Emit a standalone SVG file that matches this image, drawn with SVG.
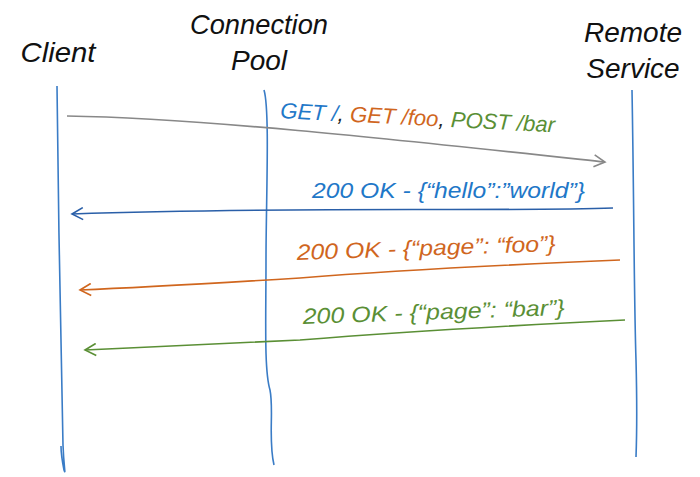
<svg xmlns="http://www.w3.org/2000/svg" width="700" height="477" viewBox="0 0 700 477">
<style>
.h{font-family:"Liberation Sans",sans-serif;font-style:italic;font-size:28px;fill:#111;text-anchor:middle}
.l{font-family:"Liberation Sans",sans-serif;font-style:italic;font-size:22px}
.life{fill:none;stroke:#3a7cc6;stroke-width:1.6}
.blue{fill:#1f78c8}.orange{fill:#d0661e}.green{fill:#5a8f35}.dark{fill:#222}
</style>
<defs>
<marker id="ag" markerWidth="14" markerHeight="14" refX="12" refY="7" orient="auto" markerUnits="userSpaceOnUse"><path d="M1,1 L12,7 L1,13" fill="none" stroke="#888" stroke-width="1.6"/></marker>
<marker id="ab" markerWidth="14" markerHeight="14" refX="12" refY="7" orient="auto" markerUnits="userSpaceOnUse"><path d="M1,1 L12,7 L1,13" fill="none" stroke="#2a5fa8" stroke-width="1.6"/></marker>
<marker id="ao" markerWidth="14" markerHeight="14" refX="12" refY="7" orient="auto" markerUnits="userSpaceOnUse"><path d="M1,1 L12,7 L1,13" fill="none" stroke="#d0661e" stroke-width="1.6"/></marker>
<marker id="agr" markerWidth="14" markerHeight="14" refX="12" refY="7" orient="auto" markerUnits="userSpaceOnUse"><path d="M1,1 L12,7 L1,13" fill="none" stroke="#5a8f35" stroke-width="1.6"/></marker>
</defs>
<g id="client">
<text class="h" x="58" y="62" textLength="75" lengthAdjust="spacingAndGlyphs">Client</text>
<path class="life" d="M57,86 C58,200 61,350 63,445 C64,470 66,475 64,470 C62,460 61,450 61,446"/>
</g>
<g id="pool">
<text class="h" x="259" y="34" textLength="138" lengthAdjust="spacingAndGlyphs">Connection</text>
<text class="h" x="259" y="70">Pool</text>
<path class="life" d="M264,90 C270,110 266,200 266,260 C266,320 264,370 270,390 C274,410 268,440 274,465"/>
</g>
<g id="remote">
<text class="h" x="633" y="42">Remote</text>
<text class="h" x="633" y="78">Service</text>
<path class="life" d="M632,90 C634,200 634,300 636,360 C637,400 637,430 636,457"/>
</g>
<g id="connectors">
<path d="M67,116 C200,118 400,140 605,162" fill="none" stroke="#888" stroke-width="1.6" marker-end="url(#ag)"/>
<path d="M613,208 C500,212 300,206 72,214" fill="none" stroke="#2a5fa8" stroke-width="1.6" marker-end="url(#ab)"/>
<path d="M620,260 C500,265 400,270 300,278 C200,284 150,287 80,290" fill="none" stroke="#d0661e" stroke-width="1.6" marker-end="url(#ao)"/>
<path d="M625,320 C500,326 400,332 300,340 C200,345 150,347 85,350" fill="none" stroke="#5a8f35" stroke-width="1.6" marker-end="url(#agr)"/>
<text class="l" x="280" y="118" transform="rotate(3 280 118)" textLength="275" lengthAdjust="spacingAndGlyphs"><tspan class="blue">GET /</tspan><tspan class="dark">, </tspan><tspan class="orange">GET /foo</tspan><tspan class="dark">, </tspan><tspan class="green">POST /bar</tspan></text>
<text class="l blue" x="312" y="198" textLength="273" lengthAdjust="spacingAndGlyphs">200 OK - {“hello”:”world”}</text>
<text class="l orange" x="297" y="260" transform="rotate(-2 297 260)" textLength="259" lengthAdjust="spacingAndGlyphs">200 OK - {“page”: “foo”}</text>
<text class="l green" x="303" y="324" transform="rotate(-2 303 324)" textLength="262" lengthAdjust="spacingAndGlyphs">200 OK - {“page”: “bar”}</text>
</g>
</svg>
